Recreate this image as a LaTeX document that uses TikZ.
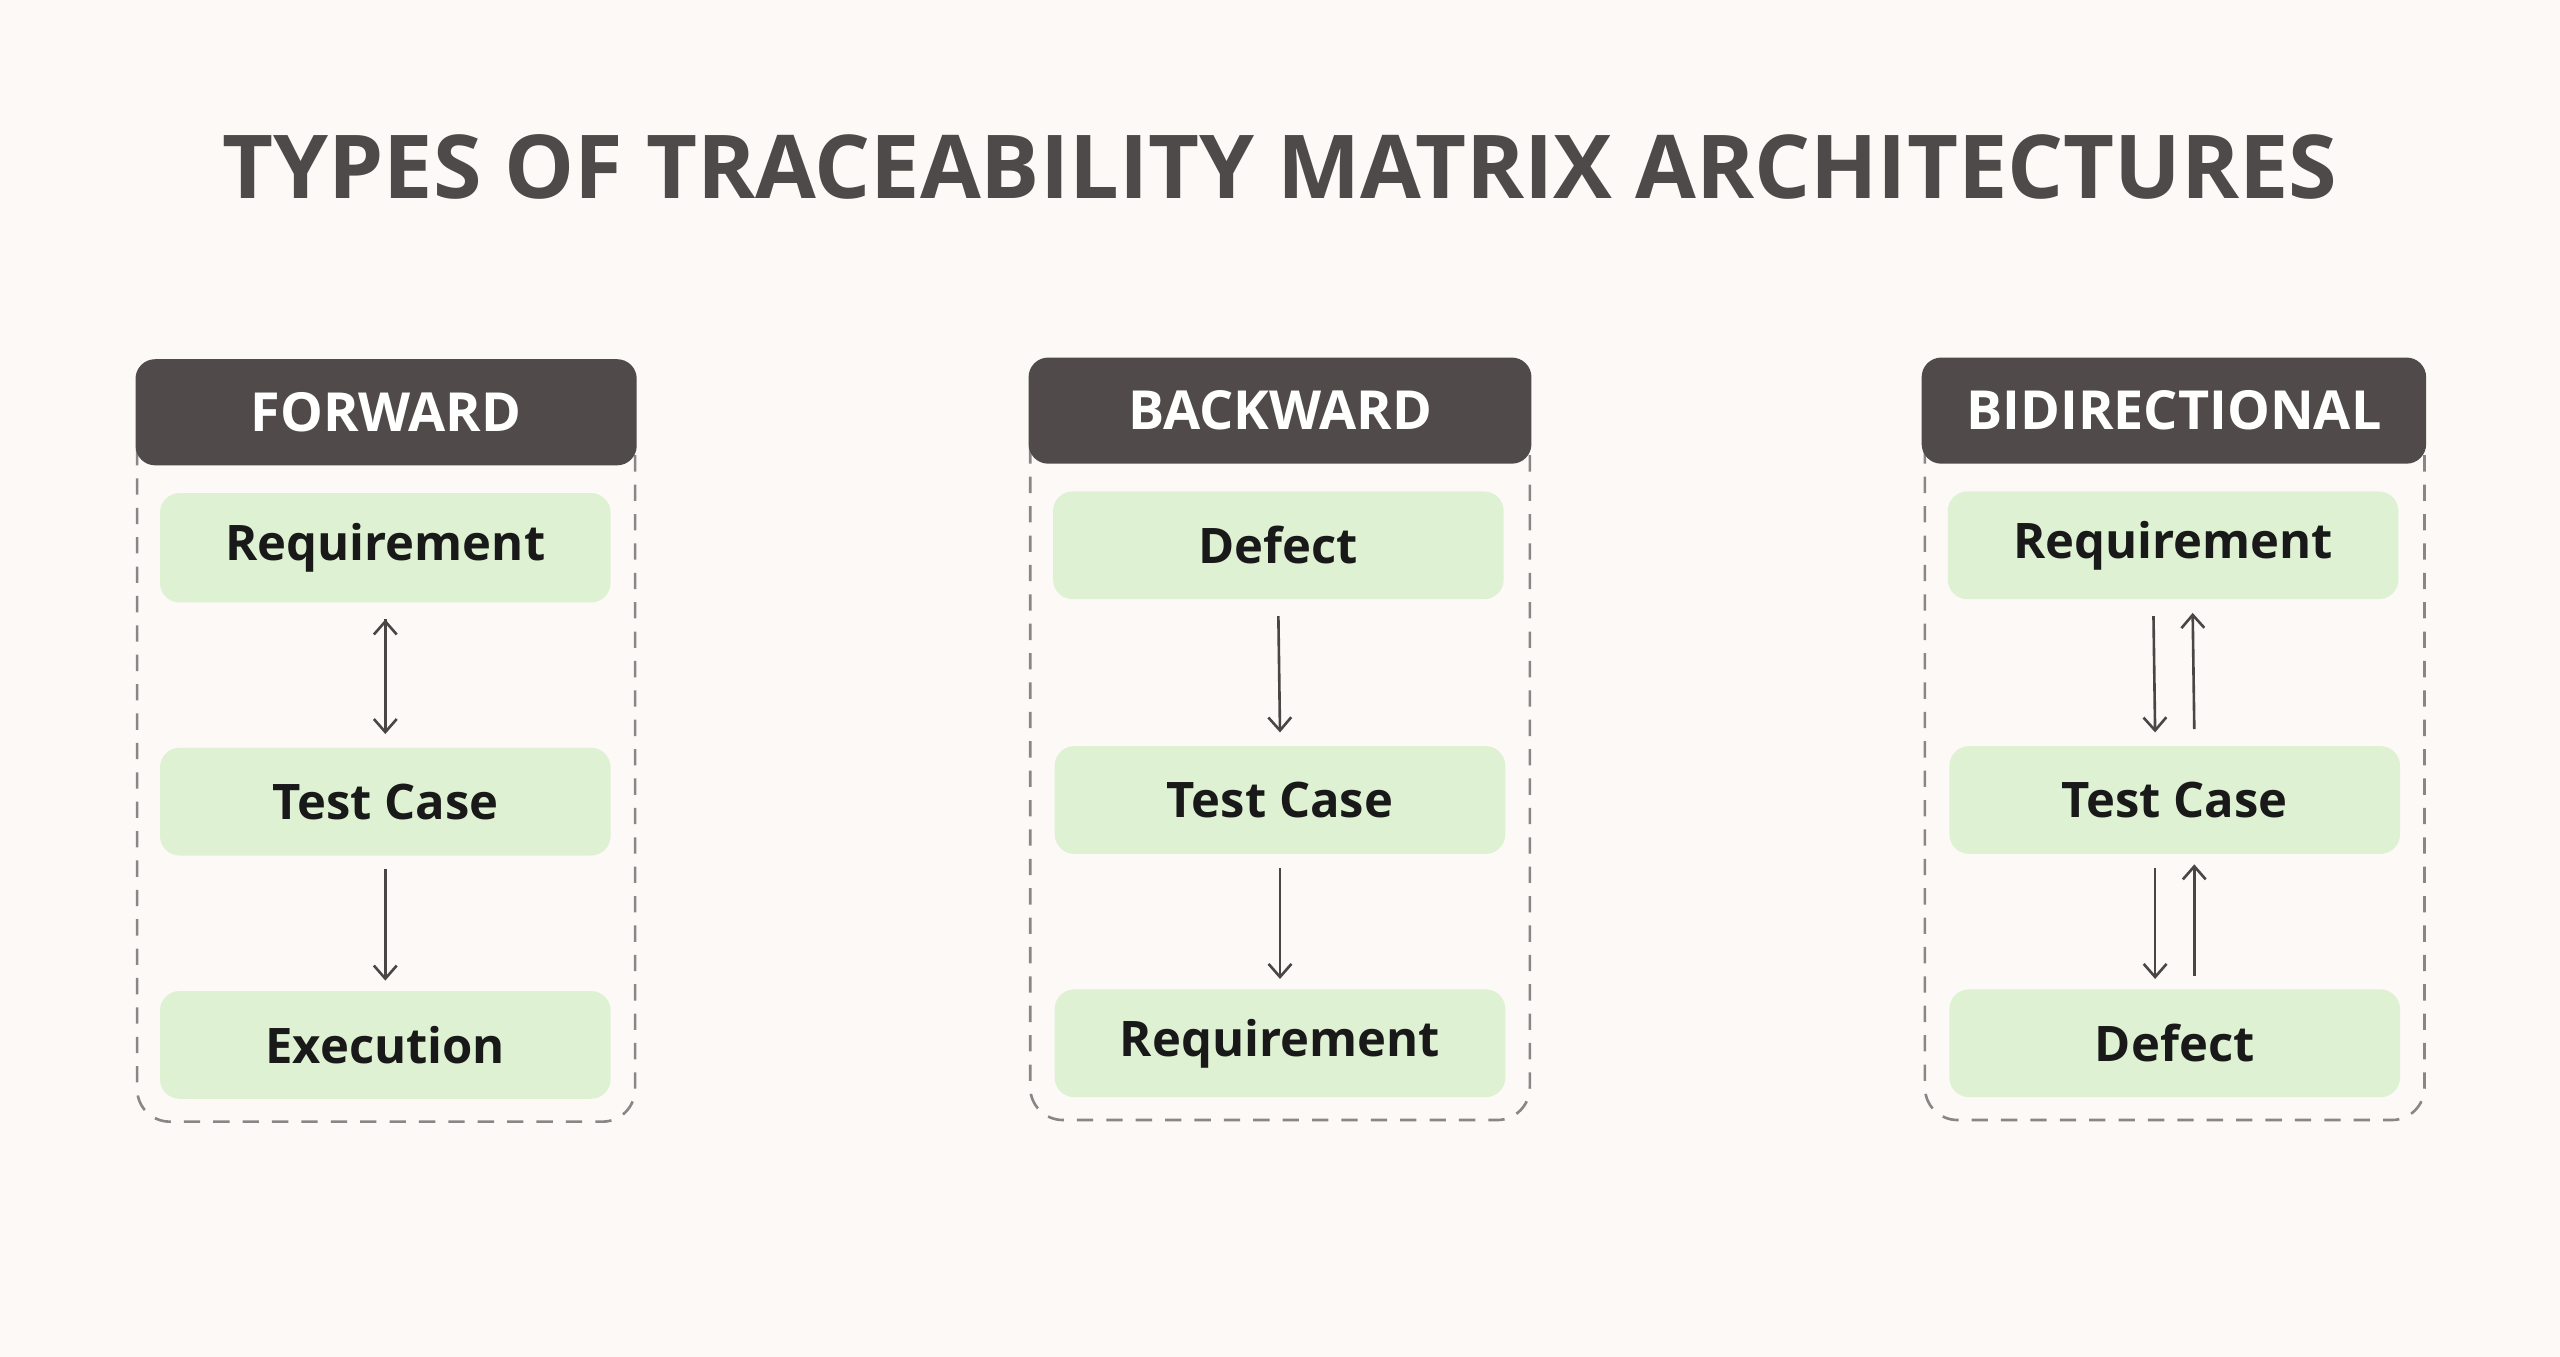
\documentclass[tikz,border=0pt]{standalone}
\usepackage{fontspec}
\setmainfont{Open Sans}
\definecolor{bg}{HTML}{FCF9F7}
\definecolor{dark}{HTML}{504B4A}
\definecolor{title}{HTML}{4D4A49}
\definecolor{green}{HTML}{DEF2D3}
\definecolor{dash}{HTML}{8A8686}
\definecolor{arr}{HTML}{4A4646}
\begin{document}
\begin{tikzpicture}[x=0.5pt,y=-0.5pt,
 hdr/.style={fill=dark,rounded corners=6pt,text=white,font=\fontsize{16.5}{18}\selectfont\bfseries},
 box/.style={fill=green,rounded corners=6pt,font=\fontsize{15}{17}\selectfont\bfseries,text=black!90},
 cont/.style={draw=dash,line width=0.8pt,dash pattern=on 5pt off 4pt,rounded corners=10pt},
 ar/.style={draw=arr,line width=0.8pt,-{Straight Barb[length=4pt,width=7pt]}}]
\usetikzlibrary{arrows.meta}
\fill[bg] (0,0) rectangle (1568,831);
\node[text=title,font=\fontsize{27}{30}\selectfont\bfseries] (t) at (784,102) {TYPES OF TRACEABILITY MATRIX ARCHITECTURES};
% forward
\draw[cont] (84,255) rectangle (389,687);
\node[hdr,minimum width=153.5pt,minimum height=32.5pt] (h1) at (236.5,252.5) {FORWARD};
\node[box,minimum width=138pt,minimum height=33.5pt] (f1) at (236,335.5) {Requirement};
\node[box,minimum width=138pt,minimum height=33pt] (f2) at (236,491) {Test Case};
\node[box,minimum width=138pt,minimum height=33pt] (f3) at (236,640) {Execution};
\draw[ar] (f1.south)++(0,10) coordinate (a1) ; \coordinate (a1e) at ([yshift=-4pt]f2.north);
\draw[ar] ([yshift=-5pt]f1.south) -- ([yshift=4pt]f2.north);
\draw[ar] ([yshift=-4pt]f2.south) -- ([yshift=3pt]f3.north);
% backward
\draw[cont] (631,254) rectangle (937,686);
\node[hdr,minimum width=154pt,minimum height=32.5pt] (h2) at (784,251.5) {BACKWARD};
\node[box,minimum width=138pt,minimum height=33pt] (b1) at (783,334) {Defect};
\node[box,minimum width=138pt,minimum height=33pt] (b2) at (784,490) {Test Case};
\node[box,minimum width=138pt,minimum height=33pt] (b3) at (784,639) {Requirement};
\draw[ar] ([yshift=-5pt]b1.south) -- ([yshift=4pt]b2.north);
\draw[ar] ([yshift=-4pt]b2.south) -- ([yshift=3pt]b3.north);
% bidirectional
\draw[cont] (1179,254) rectangle (1485,686);
\node[hdr,minimum width=154.5pt,minimum height=32.5pt] (h3) at (1331.5,251.5) {BIDIRECTIONAL};
\node[box,minimum width=138pt,minimum height=33pt] (c1) at (1331,334) {Requirement};
\node[box,minimum width=138pt,minimum height=33pt] (c2) at (1332,490) {Test Case};
\node[box,minimum width=138pt,minimum height=33pt] (c3) at (1332,639) {Defect};
\draw[ar] ([xshift=-6pt,yshift=-5pt]c1.south) -- ([xshift=-6pt,yshift=4pt]c2.north);
\draw[ar] ([xshift=6pt,yshift=5pt]c2.north) -- ([xshift=6pt,yshift=-4pt]c1.south);
\draw[ar] ([xshift=-6pt,yshift=-4pt]c2.south) -- ([xshift=-6pt,yshift=3pt]c3.north);
\draw[ar] ([xshift=6pt,yshift=4pt]c3.north) -- ([xshift=6pt,yshift=-3pt]c2.south);
\end{tikzpicture}
\end{document}
